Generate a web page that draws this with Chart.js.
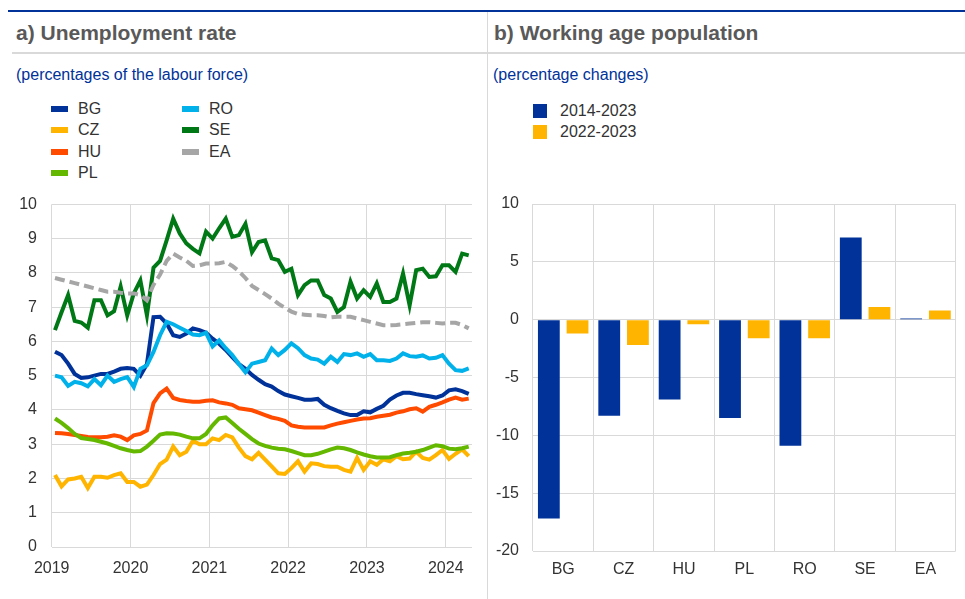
<!DOCTYPE html>
<html><head><meta charset="utf-8">
<script src="https://cdn.jsdelivr.net/npm/chart.js@4.4.1/dist/chart.umd.min.js"></script>
<style>
body{margin:0;background:#fff;font-family:Arial,"Liberation Sans",sans-serif;}
#wrap{position:relative;width:965px;height:599px;overflow:hidden;background:#fff;}
.abs{position:absolute;}
.title{font-weight:bold;font-size:21px;color:#595959;line-height:24px;white-space:nowrap;}
.sub{font-size:16px;color:#003299;line-height:18px;white-space:nowrap;}
.leg{font-size:16px;color:#333;line-height:18px;white-space:nowrap;}
canvas{position:absolute;}
</style></head><body>
<div id="wrap">
  <div class="abs" style="left:8px;top:10px;width:957px;height:2px;background:#003299"></div>
  <div class="abs" style="left:487px;top:12px;width:1px;height:587px;background:#d9d9d9"></div>
  <div class="abs" style="left:12px;top:52px;width:475px;height:2px;background:#d9d9d9"></div>
  <div class="abs" style="left:488px;top:52px;width:477px;height:2px;background:#d9d9d9"></div>
  <div class="abs title" style="left:16px;top:21px">a) Unemployment rate</div>
  <div class="abs title" style="left:494px;top:21px">b) Working age population</div>
  <div class="abs sub" style="left:16px;top:66px">(percentages of the labour force)</div>
  <div class="abs sub" style="left:493px;top:66px">(percentage changes)</div>
  <div id="legA"></div>
  <div id="legB"></div>
  <canvas id="cA" width="487" height="407" style="left:0;top:180px;width:487px;height:407px"></canvas>
  <canvas id="cB" width="477" height="411" style="left:488px;top:180px;width:477px;height:411px"></canvas>
</div>
<script>
// ---- Panel a) data: monthly unemployment rates, Jan 2019 - Apr 2024 ----
const firstYear = 2019;
const nMonths = 64;
const yearTicks = [2019, 2020, 2021, 2022, 2023, 2024];

const bgRate = [5.7,5.6,5.35,5.05,4.93,4.95,5.0,5.05,5.05,5.12,
5.2,5.22,5.2,5.0,5.34,6.71,6.72,6.52,6.18,6.13,
6.23,6.38,6.33,6.25,6.08,5.93,5.75,5.54,5.34,5.2,
5.02,4.88,4.75,4.68,4.55,4.45,4.4,4.35,4.3,4.3,
4.32,4.15,4.05,3.97,3.9,3.85,3.85,3.96,3.93,4.03,
4.12,4.3,4.42,4.5,4.5,4.46,4.43,4.4,4.36,4.42,
4.57,4.6,4.55,4.47];
const czRate = [2.1,1.77,1.97,2.0,2.05,1.72,2.05,2.05,2.02,2.1,
2.15,1.9,1.9,1.76,1.82,2.1,2.42,2.55,2.93,2.68,
2.78,3.1,3.0,3.0,3.17,3.12,3.27,3.2,2.9,2.65,
2.56,2.75,2.55,2.35,2.15,2.13,2.3,2.5,2.2,2.44,
2.42,2.36,2.34,2.34,2.25,2.2,2.6,2.25,2.5,2.4,
2.56,2.5,2.65,2.56,2.58,2.78,2.6,2.55,2.68,2.83,
2.57,2.72,2.85,2.65];
const huRate = [3.33,3.32,3.3,3.27,3.24,3.21,3.2,3.2,3.22,3.26,
3.22,3.12,3.26,3.3,3.4,4.2,4.48,4.62,4.35,4.29,
4.26,4.24,4.24,4.27,4.28,4.22,4.19,4.15,4.05,4.02,
3.99,3.92,3.85,3.78,3.74,3.68,3.55,3.51,3.49,3.49,
3.49,3.49,3.55,3.6,3.64,3.68,3.72,3.75,3.76,3.8,
3.83,3.86,3.92,3.96,4.02,4.05,3.95,4.09,4.15,4.22,
4.3,4.36,4.3,4.33];
const plRate = [3.75,3.62,3.47,3.3,3.18,3.15,3.12,3.07,3.02,2.95,
2.88,2.83,2.79,2.8,2.93,3.1,3.28,3.32,3.31,3.28,
3.22,3.17,3.17,3.3,3.55,3.75,3.78,3.62,3.45,3.3,
3.15,3.02,2.95,2.9,2.87,2.85,2.8,2.74,2.68,2.68,
2.72,2.78,2.85,2.9,2.88,2.83,2.76,2.7,2.65,2.61,
2.61,2.62,2.68,2.73,2.75,2.78,2.83,2.9,2.97,2.94,
2.87,2.85,2.88,2.93];
const roRate = [5.0,4.95,4.7,4.82,4.78,4.69,4.9,4.72,5.0,4.82,
4.9,4.96,4.67,5.2,5.3,5.69,6.18,6.57,6.5,6.4,
6.3,6.2,6.18,6.25,5.85,6.03,5.8,5.6,5.34,5.1,
5.35,5.4,5.45,5.79,5.6,5.75,5.94,5.8,5.6,5.5,
5.47,5.35,5.55,5.4,5.63,5.6,5.65,5.55,5.63,5.45,
5.45,5.43,5.5,5.65,5.57,5.55,5.59,5.5,5.52,5.6,
5.35,5.16,5.14,5.21];
const seRate = [6.33,6.85,7.35,6.6,6.55,6.4,7.2,7.2,6.76,6.88,
7.6,6.76,7.4,7.78,6.76,8.15,8.35,8.95,9.58,9.15,
8.86,8.7,8.57,9.2,9.0,9.3,9.58,9.05,9.1,9.43,
8.6,8.9,8.95,8.42,8.37,8.03,8.12,7.35,7.64,7.78,
7.78,7.35,7.25,6.86,7.0,7.74,7.25,7.49,7.3,7.69,
7.15,7.15,7.25,7.98,7.05,8.08,8.12,7.88,7.9,8.22,
8.22,8.03,8.56,8.51];
const eaRate = [7.85,7.8,7.75,7.7,7.65,7.6,7.55,7.5,7.45,7.45,
7.42,7.4,7.4,7.35,7.2,7.65,7.95,8.35,8.56,8.45,
8.35,8.2,8.22,8.27,8.27,8.28,8.32,8.2,8.05,7.85,
7.62,7.5,7.38,7.25,7.1,6.98,6.87,6.8,6.78,6.76,
6.76,6.74,6.7,6.72,6.72,6.72,6.67,6.62,6.57,6.52,
6.47,6.47,6.48,6.5,6.52,6.54,6.56,6.56,6.54,6.52,
6.54,6.54,6.48,6.38];

const lineNames = ['BG','CZ','HU','PL','RO','SE','EA'];
const lineColors = ['#003299','#ffb400','#ff4b00','#65b800','#00b1ea','#007816','#a6a6a6'];
const lineValues = [bgRate, czRate, huRate, plRate, roRate, seRate, eaRate];

// ---- Panel b) data ----
const barCategories = ['BG','CZ','HU','PL','RO','SE','EA'];
const change2014_2023 = [-17.2,-8.3,-6.9,-8.5,-10.9,7.1,0.1];
const change2022_2023 = [-1.2,-2.2,-0.4,-1.6,-1.6,1.1,0.8];
const barNames = ['2014-2023','2022-2023'];
const barColors = ['#003299','#ffb400'];

Chart.defaults.font.family = 'Arial, "Liberation Sans", sans-serif';
Chart.defaults.font.size = 16;
Chart.defaults.color = '#333';
Chart.defaults.animation = false;

// legends (HTML)
const legA = document.getElementById('legA');
lineNames.forEach((n, i) => {
  const col = i < 4 ? 0 : 1, row = i < 4 ? i : i - 4;
  const cy = 109 + row * 21.3;
  const sx = col === 0 ? 51 : 182, tx = col === 0 ? 78 : 209;
  legA.insertAdjacentHTML('beforeend',
    `<div class="abs" style="left:${sx}px;top:${cy-3}px;width:17px;height:6px;background:${lineColors[i]}"></div>` +
    `<div class="abs leg" style="left:${tx}px;top:${cy-9}px">${n}</div>`);
});
const legB = document.getElementById('legB');
barNames.forEach((n, i) => {
  const cy = 111 + i * 21.3;
  legB.insertAdjacentHTML('beforeend',
    `<div class="abs" style="left:533px;top:${cy-7}px;width:14px;height:14px;background:${barColors[i]}"></div>` +
    `<div class="abs leg" style="left:560px;top:${cy-9}px">${n}</div>`);
});

const gridCol = '#d9d9d9';

new Chart(document.getElementById('cA'), {
  type: 'line',
  data: {
    datasets: lineValues.map((vals, i) => ({
      label: lineNames[i],
      data: vals.map((v, k) => ({x: k + 0.5, y: v})),
      borderColor: lineColors[i],
      backgroundColor: lineColors[i],
      borderWidth: 4,
      borderDash: lineNames[i] === 'EA' ? [10, 5] : [],
      pointRadius: 0,
      tension: 0,
      fill: false,
      order: 10 - i
    }))
  },
  options: {
    responsive: false,
    maintainAspectRatio: false,
    layout: {padding: {top: 24, right: 15, left: 0, bottom: 0}},
    plugins: {legend: {display: false}, tooltip: {enabled: false}},
    scales: {
      x: {
        type: 'linear', min: 0, max: nMonths,
        afterBuildTicks: s => { s.ticks = yearTicks.map(y => ({value: (y - firstYear) * 12})); },
        ticks: {callback: v => String(firstYear + v / 12), padding: 12, maxRotation: 0, autoSkip: false, font: {size: 16}},
        grid: {color: gridCol, drawTicks: false, lineWidth: 1},
        border: {display: false},
        afterFit: s => { s.height = 40; }
      },
      y: {
        min: 0, max: 10,
        ticks: {stepSize: 1, padding: 14.7, font: {size: 16}},
        grid: {color: gridCol, drawTicks: false, lineWidth: 1},
        border: {display: false},
        afterFit: s => { s.width = 51.7; }
      }
    }
  }
});

new Chart(document.getElementById('cB'), {
  type: 'bar',
  data: {
    labels: barCategories,
    datasets: [change2014_2023, change2022_2023].map((vals, i) => ({
      label: barNames[i],
      data: vals,
      backgroundColor: barColors[i],
      borderWidth: 0,
      categoryPercentage: 0.95,
      barPercentage: 0.76
    }))
  },
  options: {
    responsive: false,
    maintainAspectRatio: false,
    layout: {padding: {top: 24, right: 9.3, left: 0, bottom: 0}},
    plugins: {legend: {display: false}, tooltip: {enabled: false}},
    scales: {
      x: {
        ticks: {padding: 9, maxRotation: 0, font: {size: 16}},
        grid: {color: gridCol, drawTicks: false, offset: true, lineWidth: 1},
        border: {display: false},
        afterFit: s => { s.height = 40; }
      },
      y: {
        min: -20, max: 10,
        ticks: {stepSize: 5, padding: 14, font: {size: 16}},
        grid: {color: gridCol, drawTicks: false, lineWidth: 1},
        border: {display: false},
        afterFit: s => { s.width = 45; }
      }
    }
  }
});
</script>
</body></html>
